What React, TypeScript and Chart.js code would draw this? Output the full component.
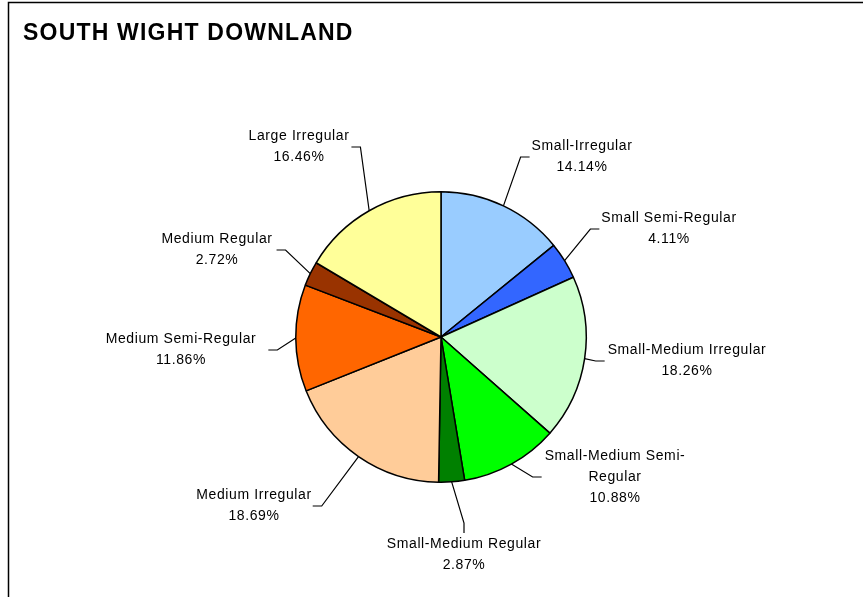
import { useEffect, useRef } from 'react';
import { Chart, registerables } from 'chart.js';

Chart.register(...registerables);

const TITLE = 'SOUTH WIGHT DOWNLAND';

const categories = [
  'Small-Irregular',
  'Small Semi-Regular',
  'Small-Medium Irregular',
  'Small-Medium Semi-Regular',
  'Small-Medium Regular',
  'Medium Irregular',
  'Medium Semi-Regular',
  'Medium Regular',
  'Large Irregular',
];

const shares = [14.14, 4.11, 18.26, 10.88, 2.87, 18.69, 11.86, 2.72, 16.46];

const sliceColors = [
  '#99CCFF',
  '#3366FF',
  '#CCFFCC',
  '#00FF00',
  '#008000',
  '#FFCC99',
  '#FF6600',
  '#993300',
  '#FFFF99',
];

// wrapped label text as it appears in the original
const labelText = [
  ['Small-Irregular'],
  ['Small Semi-Regular'],
  ['Small-Medium Irregular'],
  ['Small-Medium Semi-', 'Regular'],
  ['Small-Medium Regular'],
  ['Medium Irregular'],
  ['Medium Semi-Regular'],
  ['Medium Regular'],
  ['Large Irregular'],
];

// label placement relative to pie centre (layout only)
const labelLayout = [
  { dx: 141, dy: -180, side: 'right', gap: 2 },
  { dx: 228, dy: -108, side: 'right', gap: 2 },
  { dx: 246, dy: 24, side: 'right', gap: 3 },
  { dx: 174, dy: 140, side: 'right', gap: 3 },
  { dx: 23, dy: 218, side: 'bottom', gap: 5 },
  { dx: -187, dy: 169, side: 'left', gap: 1 },
  { dx: -260, dy: 13, side: 'left', gap: 12 },
  { dx: -224, dy: -87, side: 'left', gap: 4 },
  { dx: -142, dy: -190, side: 'left', gap: 2 },
];

const FONT = '"Liberation Sans", Arial, sans-serif';

const decorPlugin = {
  id: 'decor',
  beforeDraw(chart: any) {
    const ctx = chart.ctx;
    ctx.save();
    ctx.fillStyle = '#ffffff';
    ctx.fillRect(0, 0, chart.width, chart.height);
    ctx.strokeStyle = '#000000';
    ctx.lineWidth = 1.5;
    ctx.strokeRect(8.5, 2.5, chart.width + 20, chart.height + 20);
    ctx.fillStyle = '#000000';
    ctx.font = 'bold 23px ' + FONT;
    (ctx as any).letterSpacing = '1.2px';
    ctx.textAlign = 'left';
    ctx.textBaseline = 'alphabetic';
    ctx.fillText(TITLE, 23, 40);
    ctx.restore();
  },
  afterDatasetsDraw(chart: any) {
    const ctx = chart.ctx;
    const meta = chart.getDatasetMeta(0);
    ctx.save();
    ctx.font = '14px ' + FONT;
    (ctx as any).letterSpacing = '0.6px';
    ctx.textAlign = 'center';
    ctx.textBaseline = 'middle';
    ctx.fillStyle = '#000000';
    ctx.strokeStyle = '#000000';
    ctx.lineWidth = 1.2;
    meta.data.forEach((arc: any, i: number) => {
      const p = arc.getProps(['x', 'y', 'startAngle', 'endAngle', 'outerRadius'], true);
      const mid = (p.startAngle + p.endAngle) / 2;
      const px = p.x + Math.cos(mid) * p.outerRadius;
      const py = p.y + Math.sin(mid) * p.outerRadius;
      const L = labelLayout[i];
      const cx = p.x + L.dx;
      const cy = p.y + L.dy;
      const lines = [...labelText[i], shares[i].toFixed(2) + '%'];
      const lh = 21;
      const w = Math.max(...lines.map((t) => ctx.measureText(t).width));
      const top = cy - (lh * lines.length) / 2;
      lines.forEach((t, k) => ctx.fillText(t, cx, top + lh * (k + 0.5)));
      let ex = cx, ey = cy, bx = cx, by = cy;
      if (L.side === 'right') {
        ex = cx - w / 2 - L.gap;
        bx = ex - 9;
      } else if (L.side === 'left') {
        ex = cx + w / 2 + L.gap;
        bx = ex + 9;
      } else {
        ey = top + 4 - L.gap;
        by = ey - 10;
      }
      ctx.beginPath();
      ctx.moveTo(px, py);
      ctx.lineTo(bx, by);
      ctx.lineTo(ex, ey);
      ctx.stroke();
    });
    ctx.restore();
  },
};

export default function App() {
  const ref = useRef<HTMLCanvasElement | null>(null);
  useEffect(() => {
    if (!ref.current) return;
    const chart = new Chart(ref.current, {
      type: 'pie',
      data: {
        labels: categories,
        datasets: [
          {
            data: shares,
            backgroundColor: sliceColors,
            borderColor: '#000000',
            borderWidth: 1.5,
          },
        ],
      },
      options: {
        responsive: false,
        animation: false,
        layout: { padding: { left: 295, right: 276, top: 191, bottom: 114 } },
        plugins: {
          legend: { display: false },
          tooltip: { enabled: false },
          title: { display: false },
        },
      },
      plugins: [decorPlugin],
    });
    return () => chart.destroy();
  }, []);
  return (
    <div style={{ position: 'absolute', left: 0, top: 0, width: 863, height: 597 }}>
      <canvas ref={ref} width={863} height={597} />
    </div>
  );
}
